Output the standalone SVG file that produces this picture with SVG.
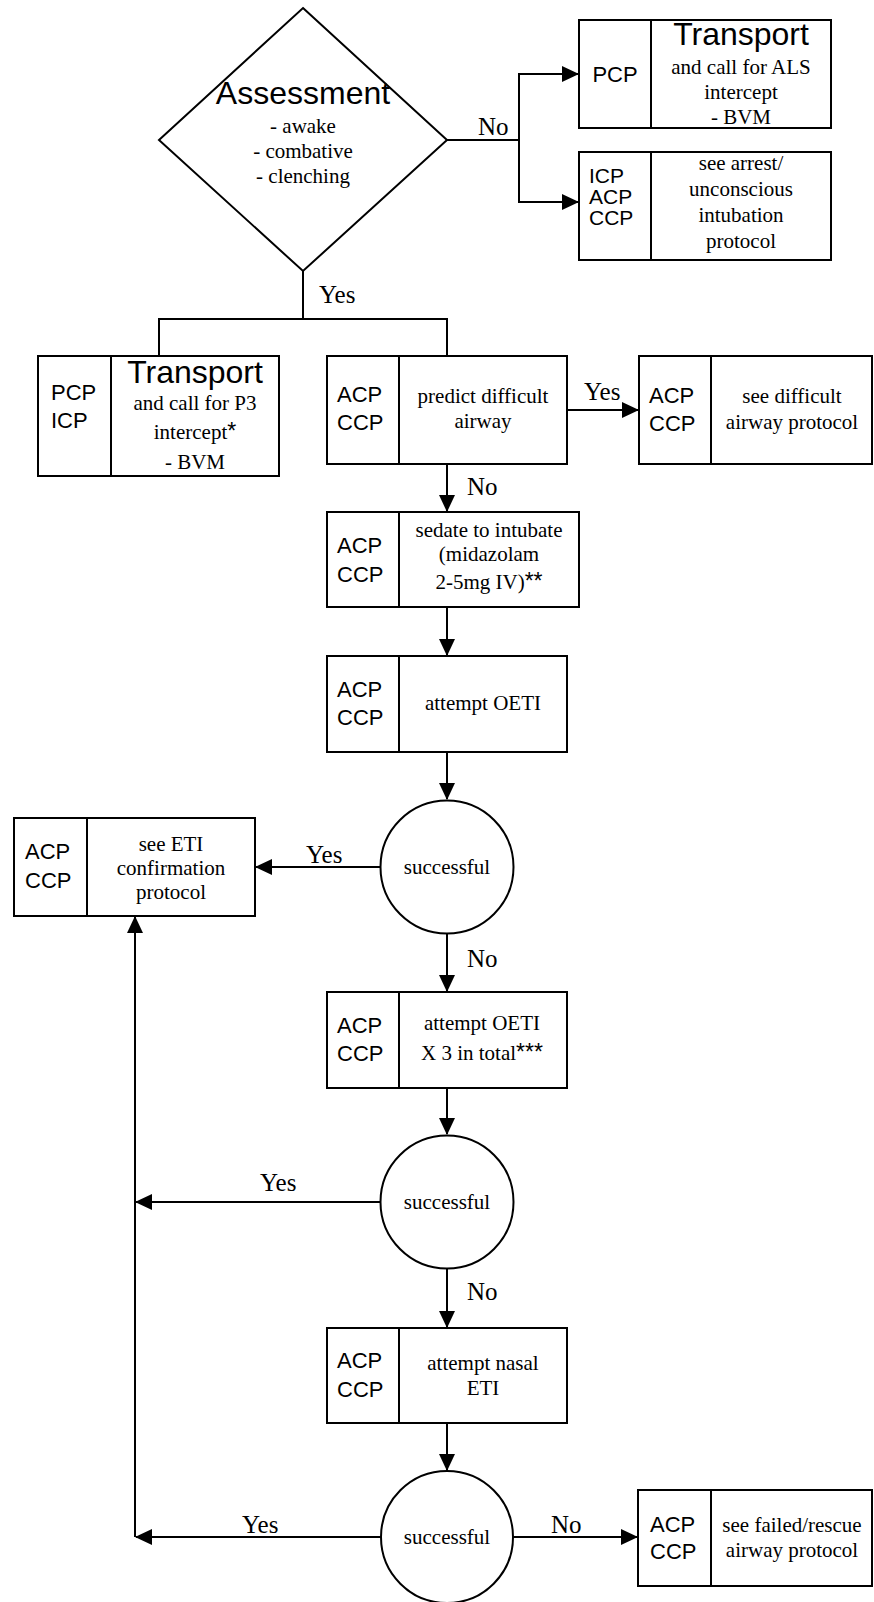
<svg xmlns="http://www.w3.org/2000/svg" width="874" height="1602" viewBox="0 0 874 1602">
  <style>
    .shape { fill: #fff; stroke: #000; stroke-width: 2; }
    .div { stroke: #000; stroke-width: 2; }
    .conn { fill: none; stroke: #000; stroke-width: 2; }
    .sans { font-family: "Liberation Sans", Arial, sans-serif; fill: #000; }
    .serif { font-family: "Liberation Serif", "Times New Roman", serif; fill: #000; }
    .role { font-size: 22px; }
    .role-sm { font-size: 21px; }
    .title { font-size: 32px; text-anchor: middle; }
    .body { font-size: 21px; text-anchor: middle; }
    .lbl { font-size: 25px; }
    .ast { font-family: "Liberation Sans", Arial, sans-serif; font-size: 23px; }
  </style>
  <defs>
    <marker id="arrow" markerWidth="17" markerHeight="16" refX="16" refY="8" orient="auto" markerUnits="userSpaceOnUse">
      <path d="M0,0 L17,8 L0,16 z" fill="#000"/>
    </marker>
  </defs>

  <rect width="874" height="1602" fill="#fff"/>

  <!-- connectors -->
  <g id="connectors">
    <path class="conn" d="M447,140 H519 V74 H578" marker-end="url(#arrow)"/>
    <path class="conn" d="M519,140 V202 H578" marker-end="url(#arrow)"/>
    <path class="conn" d="M303,271 V319"/>
    <path class="conn" d="M159,356 V319 H447 V356"/>
    <path class="conn" d="M567,410 H638" marker-end="url(#arrow)"/>
    <path class="conn" d="M447,464 V511" marker-end="url(#arrow)"/>
    <path class="conn" d="M447,607 V655" marker-end="url(#arrow)"/>
    <path class="conn" d="M447,752 V799" marker-end="url(#arrow)"/>
    <path class="conn" d="M380.5,867 H256" marker-end="url(#arrow)"/>
    <path class="conn" d="M447,933.5 V991" marker-end="url(#arrow)"/>
    <path class="conn" d="M447,1088 V1134" marker-end="url(#arrow)"/>
    <path class="conn" d="M380.5,1202 H136" marker-end="url(#arrow)"/>
    <path class="conn" d="M447,1268.5 V1327" marker-end="url(#arrow)"/>
    <path class="conn" d="M447,1423 V1470" marker-end="url(#arrow)"/>
    <path class="conn" d="M381,1537 H136" marker-end="url(#arrow)"/>
    <path class="conn" d="M135,1537 V917" marker-end="url(#arrow)"/>
    <path class="conn" d="M513,1537 H637" marker-end="url(#arrow)"/>

    <text class="serif lbl" x="478" y="135">No</text>
    <text class="serif lbl" x="319" y="303">Yes</text>
    <text class="serif lbl" x="584" y="400">Yes</text>
    <text class="serif lbl" x="467" y="495">No</text>
    <text class="serif lbl" x="306" y="863">Yes</text>
    <text class="serif lbl" x="467" y="967">No</text>
    <text class="serif lbl" x="260" y="1191">Yes</text>
    <text class="serif lbl" x="467" y="1300">No</text>
    <text class="serif lbl" x="242" y="1533">Yes</text>
    <text class="serif lbl" x="551" y="1533">No</text>
  </g>

  <!-- decision: assessment -->
  <g id="assessment">
    <polygon class="shape" points="303,8 447,140 303,271 159,140"/>
    <text class="sans title" x="303" y="104">Assessment</text>
    <text class="serif body" x="303" y="133">- awake</text>
    <text class="serif body" x="303" y="158">- combative</text>
    <text class="serif body" x="303" y="183">- clenching</text>
  </g>

  <g id="transport-als">
    <rect class="shape" x="579" y="20" width="252" height="108"/>
    <line class="div" x1="651" y1="20" x2="651" y2="128"/>
    <text class="sans role" x="615" y="82" text-anchor="middle">PCP</text>
    <text class="sans title" x="741" y="45">Transport</text>
    <text class="serif body" x="741" y="74">and call for ALS</text>
    <text class="serif body" x="741" y="99">intercept</text>
    <text class="serif body" x="741" y="124">- BVM</text>
  </g>

  <g id="arrest-protocol">
    <rect class="shape" x="579" y="152" width="252" height="108"/>
    <line class="div" x1="651" y1="152" x2="651" y2="260"/>
    <text class="sans role-sm" x="589" y="183">ICP</text>
    <text class="sans role-sm" x="589" y="204">ACP</text>
    <text class="sans role-sm" x="589" y="225">CCP</text>
    <text class="serif body" x="741" y="170">see arrest/</text>
    <text class="serif body" x="741" y="196">unconscious</text>
    <text class="serif body" x="741" y="222">intubation</text>
    <text class="serif body" x="741" y="248">protocol</text>
  </g>

  <g id="transport-p3">
    <rect class="shape" x="38" y="356" width="241" height="120"/>
    <line class="div" x1="111" y1="356" x2="111" y2="476"/>
    <text class="sans role" x="51" y="400">PCP</text>
    <text class="sans role" x="51" y="428">ICP</text>
    <text class="sans title" x="195" y="383">Transport</text>
    <text class="serif body" x="195" y="410">and call for P3</text>
    <text class="serif body" x="195" y="439">intercept<tspan class="ast">*</tspan></text>
    <text class="serif body" x="195" y="469">- BVM</text>
  </g>

  <g id="predict-difficult">
    <rect class="shape" x="327" y="356" width="240" height="108"/>
    <line class="div" x1="399" y1="356" x2="399" y2="464"/>
    <text class="sans role" x="337" y="402">ACP</text>
    <text class="sans role" x="337" y="430">CCP</text>
    <text class="serif body" x="483" y="403">predict difficult</text>
    <text class="serif body" x="483" y="428">airway</text>
  </g>

  <g id="difficult-protocol">
    <rect class="shape" x="639" y="356" width="233" height="108"/>
    <line class="div" x1="711" y1="356" x2="711" y2="464"/>
    <text class="sans role" x="649" y="403">ACP</text>
    <text class="sans role" x="649" y="431">CCP</text>
    <text class="serif body" x="792" y="403">see difficult</text>
    <text class="serif body" x="792" y="429">airway protocol</text>
  </g>

  <g id="sedate">
    <rect class="shape" x="327" y="512" width="252" height="95"/>
    <line class="div" x1="399" y1="512" x2="399" y2="607"/>
    <text class="sans role" x="337" y="553">ACP</text>
    <text class="sans role" x="337" y="582">CCP</text>
    <text class="serif body" x="489" y="537">sedate to intubate</text>
    <text class="serif body" x="489" y="561">(midazolam</text>
    <text class="serif body" x="489" y="589">2-5mg IV)<tspan class="ast">**</tspan></text>
  </g>

  <g id="attempt-oeti">
    <rect class="shape" x="327" y="656" width="240" height="96"/>
    <line class="div" x1="399" y1="656" x2="399" y2="752"/>
    <text class="sans role" x="337" y="697">ACP</text>
    <text class="sans role" x="337" y="725">CCP</text>
    <text class="serif body" x="483" y="710">attempt OETI</text>
  </g>

  <g id="successful-1">
    <circle class="shape" cx="447" cy="867" r="66.5"/>
    <text class="serif body" x="447" y="874">successful</text>
  </g>

  <g id="eti-confirmation">
    <rect class="shape" x="14" y="818" width="241" height="98"/>
    <line class="div" x1="87" y1="818" x2="87" y2="916"/>
    <text class="sans role" x="25" y="859">ACP</text>
    <text class="sans role" x="25" y="888">CCP</text>
    <text class="serif body" x="171" y="851">see ETI</text>
    <text class="serif body" x="171" y="875">confirmation</text>
    <text class="serif body" x="171" y="899">protocol</text>
  </g>

  <g id="attempt-oeti-3">
    <rect class="shape" x="327" y="992" width="240" height="96"/>
    <line class="div" x1="399" y1="992" x2="399" y2="1088"/>
    <text class="sans role" x="337" y="1033">ACP</text>
    <text class="sans role" x="337" y="1061">CCP</text>
    <text class="serif body" x="482" y="1030">attempt OETI</text>
    <text class="serif body" x="482" y="1060">X 3 in total<tspan class="ast">***</tspan></text>
  </g>

  <g id="successful-2">
    <circle class="shape" cx="447" cy="1202" r="66.5"/>
    <text class="serif body" x="447" y="1209">successful</text>
  </g>

  <g id="attempt-nasal">
    <rect class="shape" x="327" y="1328" width="240" height="95"/>
    <line class="div" x1="399" y1="1328" x2="399" y2="1423"/>
    <text class="sans role" x="337" y="1368">ACP</text>
    <text class="sans role" x="337" y="1397">CCP</text>
    <text class="serif body" x="483" y="1370">attempt nasal</text>
    <text class="serif body" x="483" y="1395">ETI</text>
  </g>

  <g id="successful-3">
    <circle class="shape" cx="447" cy="1537" r="66"/>
    <text class="serif body" x="447" y="1544">successful</text>
  </g>

  <g id="rescue-protocol">
    <rect class="shape" x="638" y="1490" width="234" height="96"/>
    <line class="div" x1="711" y1="1490" x2="711" y2="1586"/>
    <text class="sans role" x="650" y="1532">ACP</text>
    <text class="sans role" x="650" y="1559">CCP</text>
    <text class="serif body" x="792" y="1532">see failed/rescue</text>
    <text class="serif body" x="792" y="1557">airway protocol</text>
  </g>
</svg>
